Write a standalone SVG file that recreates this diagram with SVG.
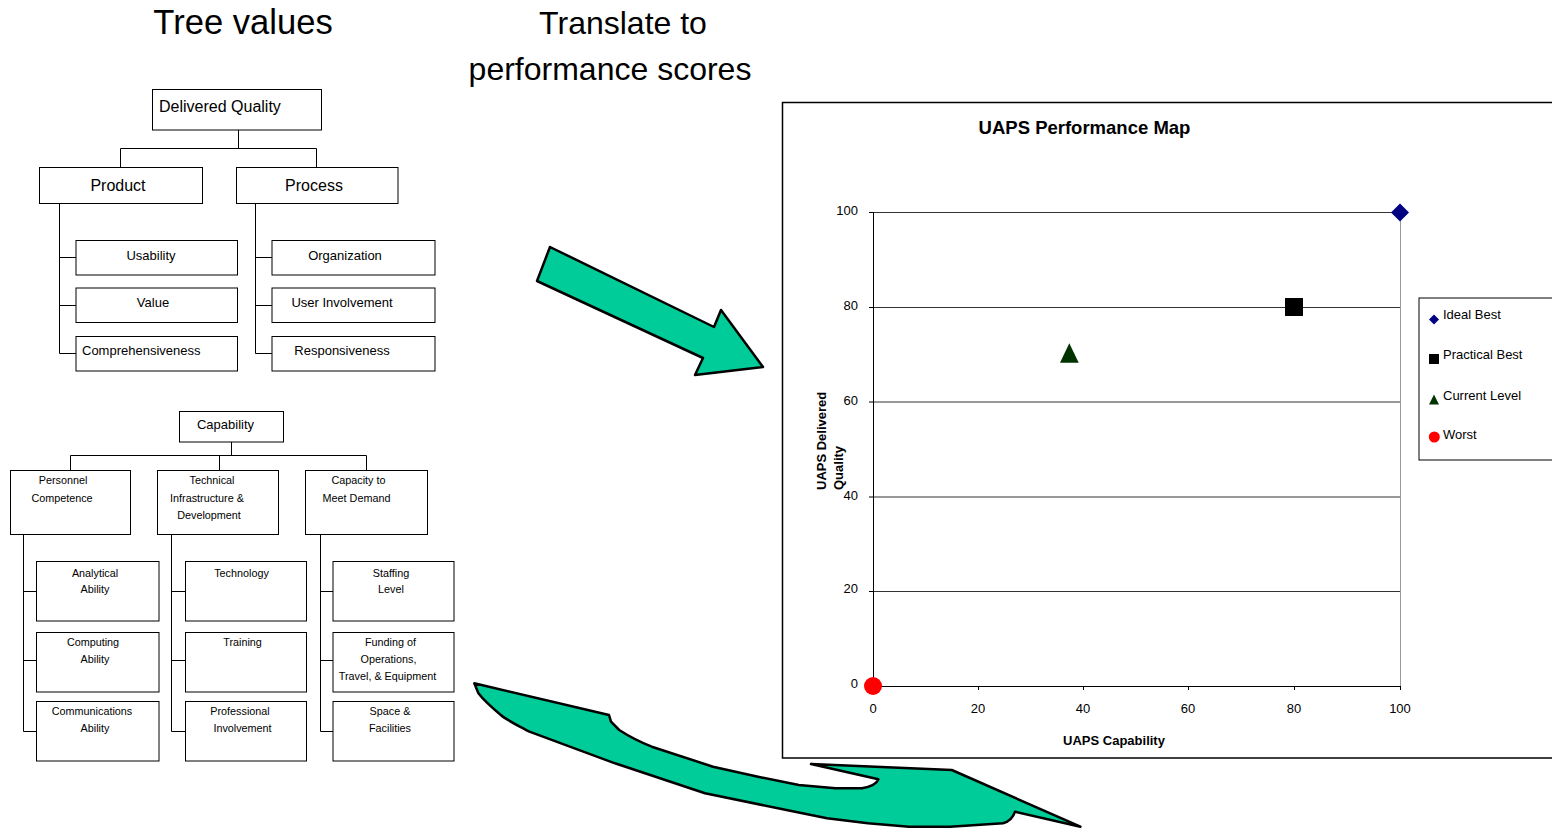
<svg xmlns="http://www.w3.org/2000/svg" width="1552" height="828" viewBox="0 0 1552 828">
<style>
text{font-family:"Liberation Sans",Arial,sans-serif;fill:#000}
.h{font-size:32px}
.n16{font-size:16px}
.n13{font-size:13px}
.n11{font-size:10.8px}
.c{text-anchor:middle}
.box{fill:#fff;stroke:#000;stroke-width:1}
.ln{fill:none;stroke:#000;stroke-width:1}
.arrow{fill:#00CC99;stroke:#000;stroke-width:2.5;stroke-linejoin:round}
.grid{stroke:#333;stroke-width:1}
.b{font-weight:bold}
</style>
<rect width="1552" height="828" fill="#fff"/>

<g id="titles">
<text class="h c" x="243" y="34" style="font-size:34.6px">Tree values</text>
<text class="h c" x="623" y="34">Translate to</text>
<text class="h c" x="610" y="80">performance scores</text>
</g>

<g id="connectors">
<path class="ln" d="M238.5,130 V148.5 M120.5,167 V148.5 H316.5 V167"/>
<path class="ln" d="M59.5,203 V353.5 M59.5,257.5 H76 M59.5,305.5 H76 M59.5,353.5 H76"/>
<path class="ln" d="M255.5,203 V353.5 M255.5,257.5 H272 M255.5,305.5 H272 M255.5,353.5 H272"/>
<path class="ln" d="M231.5,442 V455.5 M70.5,470 V455.5 H366.5 V470 M219.5,455.5 V470"/>
<path class="ln" d="M23.5,534 V731.5 M23.5,591.5 H36 M23.5,660.5 H36 M23.5,731.5 H36"/>
<path class="ln" d="M171.5,534 V731.5 M171.5,591.5 H185 M171.5,660.5 H185 M171.5,731.5 H185"/>
<path class="ln" d="M320.5,534 V731.5 M320.5,591.5 H333 M320.5,660.5 H333 M320.5,731.5 H333"/>
</g>

<g id="delivered-quality"><rect class="box" x="152.5" y="89.5" width="169" height="40.5"/><text class="n16" x="159" y="112">Delivered Quality</text></g>
<g id="product"><rect class="box" x="39.5" y="167.5" width="163" height="36"/><text class="n16 c" x="118" y="191">Product</text></g>
<g id="process"><rect class="box" x="236.5" y="167.5" width="161.5" height="36"/><text class="n16 c" x="314" y="191">Process</text></g>

<g id="usability"><rect class="box" x="76" y="240.5" width="161.5" height="34.5"/><text class="n13 c" x="151" y="259.5">Usability</text></g>
<g id="value"><rect class="box" x="76" y="288" width="161.5" height="34.5"/><text class="n13 c" x="153" y="306.5">Value</text></g>
<g id="comprehensiveness"><rect class="box" x="76" y="336.5" width="161.5" height="34.5"/><text class="n13" x="82" y="354.5">Comprehensiveness</text></g>

<g id="organization"><rect class="box" x="272" y="240.5" width="163" height="34.5"/><text class="n13 c" x="345" y="259.5">Organization</text></g>
<g id="user-involvement"><rect class="box" x="272" y="288" width="163" height="34.5"/><text class="n13 c" x="342" y="306.5">User Involvement</text></g>
<g id="responsiveness"><rect class="box" x="272" y="336.5" width="163" height="34.5"/><text class="n13 c" x="342" y="354.5">Responsiveness</text></g>

<g id="capability"><rect class="box" x="179.5" y="411.5" width="104" height="30.5"/><text class="n13 c" x="225.5" y="428.5">Capability</text></g>
<g id="personnel-competence"><rect class="box" x="10.5" y="470.5" width="120" height="64"/><text class="n11 c" x="63" y="484">Personnel</text><text class="n11 c" x="62" y="501.5">Competence</text></g>
<g id="technical-infrastructure"><rect class="box" x="157.5" y="470.5" width="121" height="64"/><text class="n11 c" x="212" y="484">Technical</text><text class="n11 c" x="207" y="501.5">Infrastructure &amp;</text><text class="n11 c" x="209" y="519">Development</text></g>
<g id="capacity-to-meet-demand"><rect class="box" x="305.5" y="470.5" width="122" height="64"/><text class="n11 c" x="358.5" y="484">Capacity to</text><text class="n11 c" x="356.5" y="501.5">Meet Demand</text></g>

<g id="analytical-ability"><rect class="box" x="36.5" y="561.5" width="122.5" height="59.5"/><text class="n11 c" x="95" y="576.5">Analytical</text><text class="n11 c" x="95" y="593">Ability</text></g>
<g id="computing-ability"><rect class="box" x="36.5" y="632.5" width="122.5" height="59.5"/><text class="n11 c" x="93" y="645.5">Computing</text><text class="n11 c" x="95" y="663">Ability</text></g>
<g id="communications-ability"><rect class="box" x="36.5" y="701.5" width="122.5" height="59.5"/><text class="n11 c" x="92" y="715">Communications</text><text class="n11 c" x="95" y="732">Ability</text></g>

<g id="technology"><rect class="box" x="185.5" y="561.5" width="121" height="59.5"/><text class="n11 c" x="241.5" y="576.5">Technology</text></g>
<g id="training"><rect class="box" x="185.5" y="632.5" width="121" height="59.5"/><text class="n11 c" x="242.5" y="645.5">Training</text></g>
<g id="professional-involvement"><rect class="box" x="185.5" y="701.5" width="121" height="59.5"/><text class="n11 c" x="240" y="715">Professional</text><text class="n11 c" x="242.5" y="732">Involvement</text></g>

<g id="staffing-level"><rect class="box" x="333" y="561.5" width="121" height="59.5"/><text class="n11 c" x="391" y="576.5">Staffing</text><text class="n11 c" x="391" y="593">Level</text></g>
<g id="funding"><rect class="box" x="333" y="632.5" width="121" height="59.5"/><text class="n11 c" x="390.5" y="645.5">Funding of</text><text class="n11 c" x="388.5" y="663">Operations,</text><text class="n11 c" x="387.5" y="679.5">Travel, &amp; Equipment</text></g>
<g id="space-facilities"><rect class="box" x="333" y="701.5" width="121" height="59.5"/><text class="n11 c" x="390" y="715">Space &amp;</text><text class="n11 c" x="390" y="732">Facilities</text></g>

<g id="arrow-translate">
<polygon class="arrow" points="550,247 714,327 721,310 763,367 695,375 703,358 537,281"/>
</g>
<g id="arrow-curved">
<path class="arrow" d="M474.3,683.3 L609,715 L611,721.7 L619.2,730 C630,737 640,742 651.8,746.7 L713,766.7 L758,776.7 L798.8,785 L835.5,788.3 L862,788.3 C870,787 876,785 878.4,779.3 L811,764 L951.8,770 L1080.4,826.7 L1015,811.7 C1013,818 1008,822 1003,823.3 L950,826.7 L909,826.7 L868,823.3 L827,818.3 L786.5,810 L705,793.3 L615,763.3 L529.4,731.7 C515,724 505,719 500.8,715 C490,706 482,698 478.4,693.3 Z"/>
</g>

<g id="chart">
<rect x="782.5" y="102.5" width="800" height="655.5" fill="none" stroke="#000" stroke-width="1.5"/>
<text class="b c" x="1084.5" y="134" style="font-size:18.5px">UAPS Performance Map</text>
<g id="plot">
<line class="grid" x1="873" y1="212.5" x2="1400" y2="212.5"/>
<line class="grid" x1="873" y1="307.5" x2="1400" y2="307.5"/>
<line class="grid" x1="873" y1="402" x2="1400" y2="402"/>
<line class="grid" x1="873" y1="497" x2="1400" y2="497"/>
<line class="grid" x1="873" y1="591.5" x2="1400" y2="591.5"/>
<line x1="1400.5" y1="212" x2="1400.5" y2="686" stroke="#999" stroke-width="1"/>
<path class="ln" d="M873.5,212 V686.5 H1400.5"/>
<path class="ln" d="M869,212.5 H873 M869,307.5 H873 M869,402 H873 M869,497 H873 M869,591.5 H873 M869,686.5 H873 M978.5,686 V690 M1083.5,686 V690 M1188.5,686 V690 M1294.5,686 V690 M1400.5,686 V690"/>
</g>
<g id="y-labels" class="n13" style="text-anchor:end">
<text x="858" y="214.5">100</text>
<text x="858" y="309.5">80</text>
<text x="858" y="404.5">60</text>
<text x="858" y="499.5">40</text>
<text x="858" y="592.5">20</text>
<text x="858" y="687.5">0</text>
</g>
<g id="x-labels" class="n13 c">
<text x="873" y="712.5">0</text>
<text x="978" y="712.5">20</text>
<text x="1083" y="712.5">40</text>
<text x="1188" y="712.5">60</text>
<text x="1294" y="712.5">80</text>
<text x="1400" y="712.5">100</text>
</g>
<text class="b c n13" x="1114" y="744.5">UAPS Capability</text>
<text class="b n13" transform="translate(826,490) rotate(-90)">UAPS Delivered</text>
<text class="b n13" transform="translate(843,490) rotate(-90)">Quality</text>
<g id="points">
<polygon points="1400,203.5 1409,212.5 1400,221.5 1391,212.5" fill="#000080"/>
<rect x="1285" y="298" width="18" height="18" fill="#000"/>
<polygon points="1060,362.7 1078.7,362.7 1069.3,343.3" fill="#003300"/>
<circle cx="873" cy="686" r="9" fill="#ff0000"/>
</g>
<g id="legend">
<rect x="1419" y="298" width="150" height="162" fill="#fff" stroke="#000" stroke-width="1"/>
<polygon points="1434,314.5 1439,319.5 1434,324.5 1429,319.5" fill="#000080"/>
<rect x="1429" y="354" width="10" height="10" fill="#000"/>
<polygon points="1429,404.5 1439,404.5 1434,394.5" fill="#003300"/>
<circle cx="1434.3" cy="437" r="5.5" fill="#ff0000"/>
<text class="n13" x="1443" y="318.5">Ideal Best</text>
<text class="n13" x="1443" y="358.5">Practical Best</text>
<text class="n13" x="1443" y="399.5">Current Level</text>
<text class="n13" x="1443" y="438.5">Worst</text>
</g>
</g>
</svg>
